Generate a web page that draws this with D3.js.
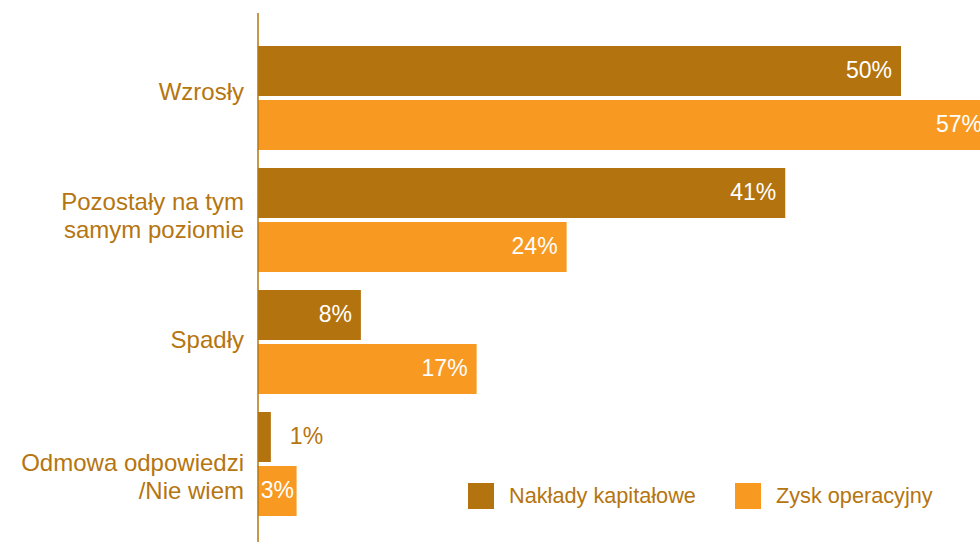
<!DOCTYPE html>
<html>
<head>
<meta charset="utf-8">
<script src="https://cdn.jsdelivr.net/npm/d3@7"></script>
<style>
  html, body { margin: 0; padding: 0; background: #fff; }
  svg { display: block; font-family: "Liberation Sans", Arial, Helvetica, sans-serif; }
</style>
</head>
<body>
<svg id="chart" width="980" height="542"></svg>
<script>
// Categories (each label split into its display lines)
const categories = ["Wzrosły", "Pozostały na tym samym poziomie", "Spadły", "Odmowa odpowiedzi /Nie wiem"];
const categoryLines = [["Wzrosły"], ["Pozostały na tym", "samym poziomie"], ["Spadły"], ["Odmowa odpowiedzi", "/Nie wiem"]];

// Series
const seriesNames = ["Nakłady kapitałowe", "Zysk operacyjny"];
const naklady = [50, 41, 8, 1];
const zysk = [57, 24, 17, 3];

// Styling / layout
const colors = ["#B3730E", "#F89A22"];
const textColor = "#B5750F";
const labelNudge = [1, 3, 5, 20];   // vertical nudge for category labels

const svg = d3.select("#chart");
const W = 980, H = 542;
const x0 = 258;

const x = d3.scaleLinear().domain([0, 50]).range([x0, 901]);

const y = d3.scaleBand()
  .domain(categories)
  .range([37, 525])
  .paddingInner(18 / 122)
  .paddingOuter(9 / 122);

const ySub = d3.scaleBand()
  .domain(seriesNames)
  .range([0, y.bandwidth()])
  .paddingInner(4 / 54);

const rows = categories.map((c, i) => ({
  cat: c, i,
  vals: [
    { s: seriesNames[0], v: naklady[i], k: 0 },
    { s: seriesNames[1], v: zysk[i], k: 1 }
  ]
}));

// Bars
const groups = svg.append("g").selectAll("g")
  .data(rows).join("g")
  .attr("transform", d => `translate(0,${y(d.cat)})`);

groups.selectAll("rect")
  .data(d => d.vals).join("rect")
  .attr("x", x(0))
  .attr("y", d => ySub(d.s))
  .attr("width", d => x(d.v) - x(0))
  .attr("height", ySub.bandwidth())
  .attr("fill", d => colors[d.k]);

// Value labels
groups.selectAll("text.val")
  .data(d => d.vals).join("text")
  .attr("class", "val")
  .attr("font-size", 23)
  .attr("y", d => ySub(d.s) + ySub.bandwidth() / 2 + 7)
  .text(d => d.v + "%")
  .each(function (d) {
    const t = d3.select(this);
    const tw = this.getComputedTextLength();
    const bw = x(d.v) - x(0);
    if (bw >= tw + 18) {
      t.attr("x", x(d.v) - 9).attr("text-anchor", "end").attr("fill", "#fff");
    } else if (bw >= tw + 2) {
      t.attr("x", x(0) + bw / 2).attr("text-anchor", "middle").attr("fill", "#fff");
    } else {
      t.attr("x", x(d.v) + 19).attr("text-anchor", "start").attr("fill", textColor);
    }
  });

// Category axis line
svg.append("line")
  .attr("x1", x0).attr("x2", x0)
  .attr("y1", 13).attr("y2", H)
  .attr("stroke", textColor).attr("stroke-width", 1.5);

// Category labels
const lineH = 28;
svg.append("g").selectAll("text")
  .data(rows).join("text")
  .attr("text-anchor", "end")
  .attr("font-size", 24)
  .attr("fill", textColor)
  .each(function (d) {
    const lines = categoryLines[d.i];
    const cy = y(d.cat) + y.bandwidth() / 2 + labelNudge[d.i];
    const first = cy - (lines.length - 1) * lineH / 2 + 1;
    d3.select(this).selectAll("tspan")
      .data(lines).join("tspan")
      .attr("x", 244)
      .attr("y", (l, j) => first + j * lineH)
      .text(l => l);
  });

// Legend
const legend = svg.append("g").attr("transform", "translate(468,483)");
const items = legend.selectAll("g")
  .data(seriesNames).join("g")
  .attr("transform", (d, i) => `translate(${i * 267},0)`);
items.append("rect")
  .attr("width", 26).attr("height", 26)
  .attr("fill", (d, i) => colors[i]);
items.append("text")
  .attr("x", 41).attr("y", 20)
  .attr("font-size", 21.7)
  .attr("fill", textColor)
  .text(d => d);
</script>
</body>
</html>
